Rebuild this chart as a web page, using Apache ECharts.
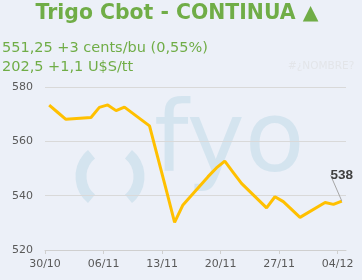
<!DOCTYPE html>
<html><head><meta charset="utf-8">
<script src="https://cdn.jsdelivr.net/npm/echarts@6/dist/echarts.min.js"></script>
<style>html,body{margin:0;padding:0;background:#ECF0F8;}#c{width:362px;height:280px;}</style>
</head><body><div id="c"></div>
<script>
// ---- data ----
const dates = ['30/10','31/10','01/11','04/11','05/11','06/11','07/11','08/11','11/11','12/11','13/11','14/11','15/11','18/11','19/11','20/11','21/11','22/11','25/11','26/11','27/11','29/11','02/12','03/12','04/12'];
const prices = [573.3,570.7,568.1,568.8,572.5,573.4,571.3,572.6,565.7,553.9,542.1,530.2,536.6,547.0,550.2,552.7,548.6,544.5,535.5,539.6,537.8,532.0,537.5,536.8,538.0];
const xTickLabels = ['30/10','06/11','13/11','20/11','27/11','04/12'];
const yTicks = [520,540,560,580];
const titleText = 'Trigo Cbot - CONTINUA \u25B2';
const line1 = '551,25 +3 cents/bu (0,55%)';
const line2 = '202,5 +1,1 U$S/tt';
const lastLabel = '538';
const year = 2013;

function dayIndex(s){
  const [d,m] = s.split('/').map(Number);
  return (Date.UTC(year,m-1,d) - Date.UTC(year,9,30)) / 86400000;
}
const tickDays = xTickLabels.map(dayIndex);
const seriesData = dates.map((s,i)=>{
  const pt = [dayIndex(s)+0.5, prices[i]];
  if (i === dates.length-1) {
    return {value: pt, label: {show: true, formatter: lastLabel}};
  }
  return pt;
});

const chart = echarts.init(document.getElementById('c'), null, {renderer:'canvas'});
chart.setOption({
  backgroundColor: '#ECF0F8',
  animation: false,
  title: [
    {text: titleText, left: 177, textAlign: 'center', top: 4, padding: 0,
     textStyle: {fontFamily: 'DejaVu Sans', fontWeight: 'bold', fontSize: 20.4, color: '#70AD47'}},
    {text: line1, left: 2, top: 41, padding: 0,
     textStyle: {fontFamily: 'DejaVu Sans', fontWeight: 'normal', fontSize: 14.5, color: '#70AD47'}},
    {text: line2, left: 2, top: 60, padding: 0,
     textStyle: {fontFamily: 'DejaVu Sans', fontWeight: 'normal', fontSize: 14.5, color: '#70AD47'}},
    {text: '#\u00BFNOMBRE?', left: 288, top: 61, padding: 0,
     textStyle: {fontFamily: 'DejaVu Sans', fontWeight: 'normal', fontSize: 10.5, color: '#E3E5E9'}}
  ],
  graphic: [
    {type: 'arc', z: 0, silent: true, shape: {cx: 110, cy: 176.5, r: 29, startAngle: Math.PI*0.72, endAngle: Math.PI*1.28, clockwise: true},
     style: {stroke: '#D4E4EF', lineWidth: 11, fill: 'none'}},
    {type: 'arc', z: 0, silent: true, shape: {cx: 110, cy: 176.5, r: 29, startAngle: -Math.PI*0.28, endAngle: Math.PI*0.28, clockwise: true},
     style: {stroke: '#D4E4EF', lineWidth: 11, fill: 'none'}},
    {type: 'text', z: 0, silent: true, x: 154, y: 97,
     style: {text: 'fyo', font: '98px "DejaVu Sans"', fill: '#D4E4EF'}}
  ],
  grid: {left: 45, right: 16, top: 87, bottom: 30, containLabel: false},
  xAxis: {
    type: 'value', min: 0, max: 36, interval: 7,
    axisLine: {show: true, lineStyle: {color: '#CFCFCF', width: 1}},
    axisTick: {show: true, length: 4, customValues: tickDays, lineStyle: {color: '#CFCFCF'}},
    axisLabel: {customValues: tickDays, margin: 9, fontFamily: 'DejaVu Sans', fontSize: 11, color: '#595959',
      formatter: v => { const i = tickDays.indexOf(v); return i >= 0 ? xTickLabels[i] : ''; }},
    splitLine: {show: false}
  },
  yAxis: {
    type: 'value', min: yTicks[0], max: yTicks[yTicks.length-1], interval: 20,
    axisLine: {show: false}, axisTick: {show: false},
    axisLabel: {margin: 12, fontFamily: 'DejaVu Sans', fontSize: 11, color: '#595959'},
    splitLine: {show: true, lineStyle: {color: '#D9D9D9', width: 1}}
  },
  series: [{
    type: 'line', data: seriesData, showSymbol: true, symbol: 'circle', symbolSize: 0,
    lineStyle: {color: '#FFC000', width: 3}, itemStyle: {color: '#FFC000'},
    label: {show: false, position: 'top', distance: 5, fontFamily: 'Liberation Sans', fontWeight: 'bold', fontSize: 13.5, color: '#404040'},
    labelLayout: {dy: -14, dx: 0},
    labelLine: {show: true, lineStyle: {color: '#A6A6A6', width: 1}},
    z: 5
  }]
});
</script></body></html>
